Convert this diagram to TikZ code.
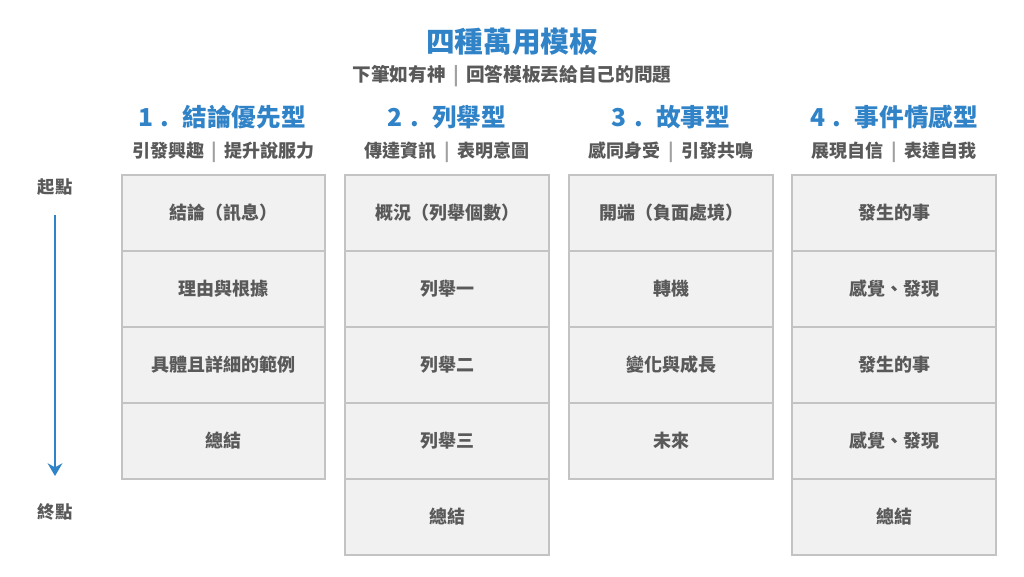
\documentclass[tikz,border=0pt]{standalone}
\usepackage{fontspec}
\usepackage{tikz}
\usetikzlibrary{positioning,arrows.meta}
\newfontfamily\cjk{Noto Sans CJK TC}
\definecolor{tblue}{HTML}{3183C8}
\definecolor{tgray}{HTML}{595959}
\definecolor{barline}{HTML}{A0A0A0}
\definecolor{cellfill}{HTML}{F1F1F1}
\definecolor{cellline}{HTML}{C3C3C3}
\newcommand{\sepbar}{\hspace{5.5pt}{\color{barline}|}\hspace{5.5pt}}
\newcommand{\numdot}[1]{#1\hspace{0.3em}.\hspace{0.55em}}
\tikzset{
	cell/.style={shape=rectangle,draw=cellline,line width=1.3pt,fill=cellfill,outer sep=0pt,
		minimum width=152.5pt,minimum height=57pt,font=\cjk\bfseries\fontsize{13.5}{15}\selectfont,text=tgray},
	colhead/.style={font=\cjk\bfseries\fontsize{18.5}{22}\selectfont,text=tblue},
	colsub/.style={font=\cjk\bfseries\fontsize{13.5}{15}\selectfont,text=tgray},
	sidelabel/.style={font=\cjk\bfseries\fontsize{13}{14}\selectfont,text=tgray}
}
\begin{document}
\begin{tikzpicture}[x=0.75pt,y=-0.75pt]
		\useasboundingbox (0,0) rectangle (1024,576);
		% title
		\node(title) at (512,42) [font=\cjk\bfseries\fontsize{21.5}{24}\selectfont,text=tblue] {四種萬用模板};
		\node(subtitle) at (512,76) [colsub,font=\cjk\bfseries\fontsize{14}{16}\selectfont] {下筆如有神\sepbar 回答模板丟給自己的問題};
		% column 1
		\node(h1) at (222,117) [colhead] {\numdot{1}結論優先型};
		\node(s1) at (223.5,152) [colsub] {引發興趣\sepbar 提升說服力};
		\node(a1) at (223.5,213) [cell] {結論（訊息）};
		\node(a2) [below=0pt of a1,cell] {理由與根據};
		\node(a3) [below=0pt of a2,cell] {具體且詳細的範例};
		\node(a4) [below=0pt of a3,cell] {總結};
		% column 2
		\node(h2) at (447,117) [colhead] {\numdot{2}列舉型};
		\node(s2) at (447,152) [colsub] {傳達資訊\sepbar 表明意圖};
		\node(b1) at (447,213) [cell] {概況（列舉個數）};
		\node(b2) [below=0pt of b1,cell] {列舉一};
		\node(b3) [below=0pt of b2,cell] {列舉二};
		\node(b4) [below=0pt of b3,cell] {列舉三};
		\node(b5) [below=0pt of b4,cell] {總結};
		% column 3
		\node(h3) at (671,117) [colhead] {\numdot{3}故事型};
		\node(s3) at (671,152) [colsub] {感同身受\sepbar 引發共鳴};
		\node(c1) at (671,213) [cell] {開端（負面處境）};
		\node(c2) [below=0pt of c1,cell] {轉機};
		\node(c3) [below=0pt of c2,cell] {變化與成長};
		\node(c4) [below=0pt of c3,cell] {未來};
		% column 4
		\node(h4) at (894,117) [colhead] {\numdot{4}事件情感型};
		\node(s4) at (894,152) [colsub] {展現自信\sepbar 表達自我};
		\node(d1) at (894,213) [cell] {發生的事};
		\node(d2) [below=0pt of d1,cell] {感覺、發現};
		\node(d3) [below=0pt of d2,cell] {發生的事};
		\node(d4) [below=0pt of d3,cell] {感覺、發現};
		\node(d5) [below=0pt of d4,cell] {總結};
		% start / end
		\node(start) at (55,187) [sidelabel] {起點};
		\node(end) at (55,512) [sidelabel] {終點};
		\coordinate (top) at (55,215);
		\coordinate (bot) at (55,476);
		\draw [tblue,line width=2.2pt,-{Stealth[length=9.5pt,width=11pt,inset=3pt]}] (top) -- (bot);
	\end{tikzpicture}
\end{document}
